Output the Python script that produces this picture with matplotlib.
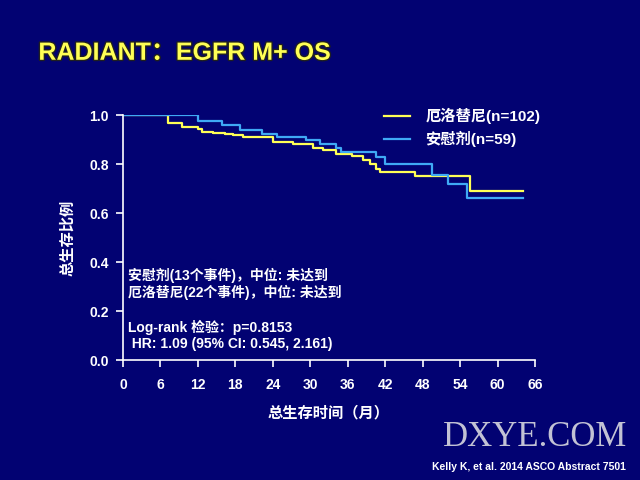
import matplotlib
matplotlib.use('Agg')
from matplotlib import pyplot as plt
import matplotlib.patheffects as pe

plt.rcParams['font.family'] = ['Liberation Sans', 'Noto Sans CJK SC', 'DejaVu Sans']
plt.rcParams['font.weight'] = 'bold'

# Kaplan-Meier steps (months, survival proportion)
erl_t = [0, 7.3, 9.4, 12, 12.6, 14.5, 16.3, 17.7, 19.3, 24.1, 27.3, 30.5, 32.1,
         34.2, 36.7, 38.5, 39.6, 40.6, 41.2, 46.8, 55.6, 64.1]
erl_s = [1.0, 0.969, 0.95, 0.942, 0.932, 0.928, 0.925, 0.918, 0.911, 0.891, 0.882,
         0.868, 0.857, 0.843, 0.833, 0.819, 0.80, 0.782, 0.769, 0.752, 0.692, 0.692]
pbo_t = [0, 12, 15.8, 18.8, 22.2, 24.6, 29.4, 31.6, 34.2, 35, 40.6, 42, 49.5,
         52.1, 55.1, 64.1]
pbo_s = [1.0, 0.977, 0.959, 0.939, 0.925, 0.909, 0.898, 0.884, 0.864, 0.85, 0.83,
         0.80, 0.755, 0.717, 0.66, 0.66]

labels = ['厄洛替尼(n=102)', '安慰剂(n=59)']
x_ticks = list(range(0, 67, 6))
y_ticks = [0.0, 0.2, 0.4, 0.6, 0.8, 1.0]

bg = '#020272'
yellow = '#ffff55'
blue = '#3fa9f5'

fig = plt.figure(figsize=(6.4, 4.8), dpi=100, facecolor=bg)
ax = fig.add_axes([0.192, 0.25, 0.644, 0.51], facecolor=bg)

ax.step(erl_t, erl_s, where='post', color=yellow, lw=1.6, label=labels[0])
ax.step(pbo_t, pbo_s, where='post', color=blue, lw=1.6, label=labels[1])

ax.set_xlim(0, 66)
ax.set_ylim(0, 1.0)
ax.set_xticks(x_ticks)
ax.set_yticks(y_ticks)
ax.set_yticklabels(['%.1f' % v for v in y_ticks])
for s in ['top', 'right']:
    ax.spines[s].set_visible(False)
for s in ['left', 'bottom']:
    ax.spines[s].set_color('white')
    ax.spines[s].set_linewidth(1.2)
ax.tick_params(colors='white', labelsize=10, width=1.2, length=5, pad=8)
ax.tick_params(axis='y', pad=5)
for t in ax.get_xticklabels() + ax.get_yticklabels():
    t.set_fontweight('bold')

ax.set_xlabel('总生存时间（月）', color='white', fontsize=11, fontweight='bold', labelpad=10)
ax.set_ylabel('总生存比例', color='white', fontsize=11, fontweight='bold', labelpad=10)

leg = ax.legend(loc='upper left', bbox_to_anchor=(0.6, 1.085), frameon=False,
                handlelength=1.7, handletextpad=1.0, labelspacing=0.45,
                prop={'size': 11, 'weight': 'bold'})
for t in leg.get_texts():
    t.set_color('white')

ax.text(0.012, 0.31, '安慰剂(13个事件)，中位: 未达到\n厄洛替尼(22个事件)，中位: 未达到',
        transform=ax.transAxes, color='white', fontsize=10, fontweight='bold',
        va='center', linespacing=1.2)
ax.text(0.012, 0.10, 'Log-rank 检验：p=0.8153\n HR: 1.09 (95% CI: 0.545, 2.161)',
        transform=ax.transAxes, color='white', fontsize=10, fontweight='bold',
        va='center', linespacing=1.25)

fig.text(0.06, 0.89, 'RADIANT：EGFR M+ OS', color=yellow, fontsize=18, fontweight='bold',
         va='center', path_effects=[pe.withStroke(linewidth=2, foreground='#202020')])

fig.text(0.836, 0.088, 'DXYE.COM', family='Liberation Serif', color='#d8d8e0', fontsize=25,
         fontweight='normal', ha='center', va='center', alpha=0.9)
fig.text(0.827, 0.027, 'Kelly K, et al. 2014 ASCO Abstract 7501', color='white',
         fontsize=7.5, fontweight='bold', ha='center', va='center')

fig.savefig('out.png', dpi=100, facecolor=bg)
